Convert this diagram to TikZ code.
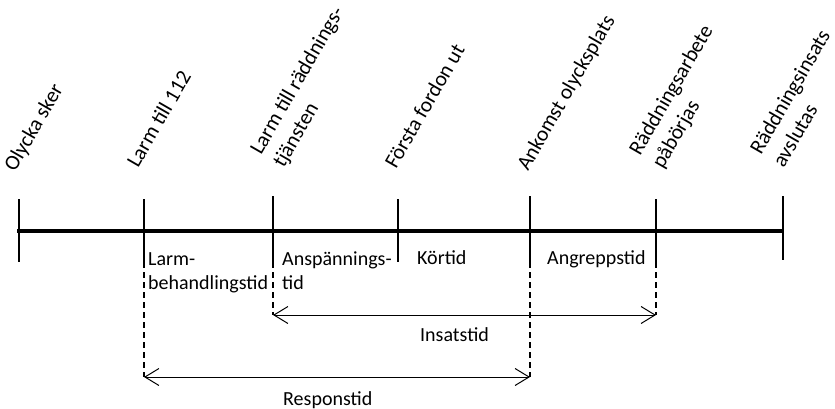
\documentclass[tikz,border=0pt]{standalone}
\usepackage{fontspec}
\setmainfont{Carlito}
\usetikzlibrary{arrows.meta}
\begin{document}
\begin{tikzpicture}[x=1pt,y=-1pt,
  font=\fontsize{20}{24.4}\selectfont,
  mainline/.style={line width=4.5pt},
  tickline/.style={line width=1.4pt},
  dashline/.style={line width=1.2pt, dash pattern=on 6pt off 4pt},
  dimarrow/.style={line width=1pt, {Straight Barb[length=14pt,width=17pt,line width=1pt]}-{Straight Barb[length=14pt,width=17pt,line width=1pt]}},
  rlabel/.style={anchor=base west, rotate=60, inner sep=0pt, font=\fontsize{21.3}{26.2}\selectfont},
  hlabel/.style={anchor=base west, inner sep=0pt}]
\useasboundingbox (0,0) rectangle (835,409);
% timeline
\coordinate (s) at (17,231);
\coordinate (e) at (783,231);
\draw[mainline] (s) -- (e);
% ticks
\coordinate (t1a) at (19,199);  \coordinate (t1b) at (19,262);
\coordinate (t2a) at (144,199); \coordinate (t2b) at (144,262);
\coordinate (t3a) at (273,196); \coordinate (t3b) at (273,262);
\coordinate (t4a) at (398,199); \coordinate (t4b) at (398,262);
\coordinate (t5a) at (530,196); \coordinate (t5b) at (530,262);
\coordinate (t6a) at (656,199); \coordinate (t6b) at (656,262);
\coordinate (t7a) at (783,196); \coordinate (t7b) at (783,260);
\foreach \i in {1,...,7} \draw[tickline] (t\i a) -- (t\i b);
% arrow ends
\coordinate (r2) at (144,377);
\coordinate (r5) at (530,377);
\coordinate (i3) at (273,315);
\coordinate (i6) at (656,315);
\draw[dashline] (t2b) -- (r2);
\draw[dashline] (t5b) -- (r5);
\draw[dashline] (t3b) -- (i3);
\draw[dashline] (t6b) -- (i6);
\draw[dimarrow] (i3) -- (i6);
\draw[dimarrow] (r2) -- (r5);
% rotated labels
\node[rlabel] (l1) at (15,173) {Olycka sker};
\node[rlabel] (l2) at (138,169) {Larm till 112};
\node[rlabel] (l3) at (261,156) {\begin{tabular}[t]{@{}l@{}}Larm till räddnings-\\tjänsten\end{tabular}};
\node[rlabel] (l4) at (396,170) {Första fordon ut};
\node[rlabel] (l5) at (528,172) {Ankomst olycksplats};
\node[rlabel] (l6) at (640,157) {\begin{tabular}[t]{@{}l@{}}Räddningsarbete\\påbörjas\end{tabular}};
\node[rlabel] (l7) at (761,156) {\begin{tabular}[t]{@{}l@{}}Räddningsinsats\\avslutas\end{tabular}};
% interval labels
\node[hlabel] (h1) at (148,265.5) {\begin{tabular}[t]{@{}l@{}}Larm-\\behandlingstid\end{tabular}};
\node[hlabel] (h2) at (282,265.5) {\begin{tabular}[t]{@{}l@{}}Anspännings-\\tid\end{tabular}};
\node[hlabel] (h3) at (417,264) {Körtid};
\node[hlabel] (h4) at (547,264) {Angreppstid};
\node[hlabel] (h5) at (420,341.5) {Insatstid};
\node[hlabel] (h6) at (283,405) {Responstid};
\end{tikzpicture}
\end{document}
